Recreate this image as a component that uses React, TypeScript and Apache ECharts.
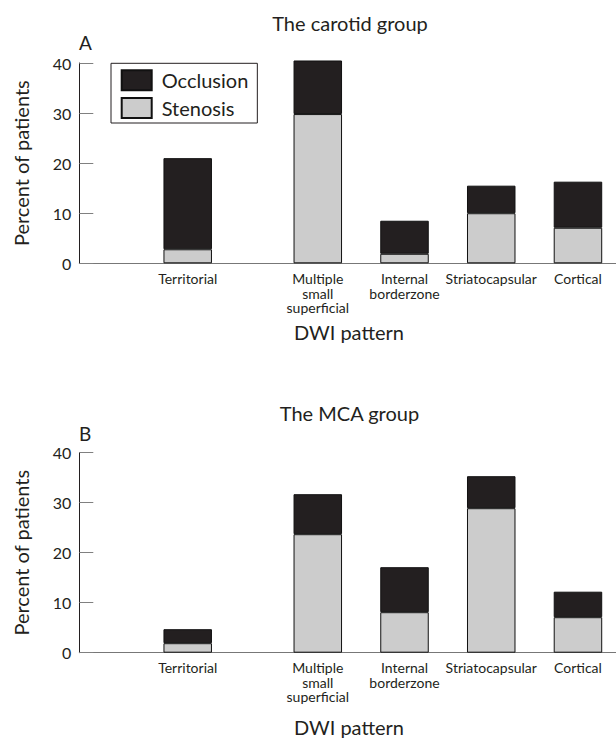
import React, { useEffect, useRef } from "react";
import * as echarts from "echarts";

// ---- data ----
const categories = [
  "Territorial",
  "Multiple\nsmall\nsuperficial",
  "Internal\nborderzone",
  "Striatocapsular",
  "Cortical",
];
const carotidStenosis = [2.8, 29.8, 1.9, 10.0, 7.1];
const carotidOcclusion = [18.2, 10.7, 6.6, 5.5, 9.2];
const mcaStenosis = [1.9, 23.7, 8.1, 28.9, 7.1];
const mcaOcclusion = [2.8, 8.0, 9.0, 6.4, 5.1];
const yTicks = [0, 10, 20, 30, 40];
const seriesNames = ["Occlusion", "Stenosis"];
const xAxisTitle = "DWI pattern";
const yAxisTitle = "Percent of patients";
const panelTitles = ["The carotid group", "The MCA group"];
const panelLetters = ["A", "B"];

// ---- layout (slots on the category axis, gaps are blank slots) ----
const SLOT_COUNT = 13;
const SLOT_OF = [2, 5, 7, 9, 11];
const GRID_LEFT = 79.3;
const GRID_WIDTH = 563.7; // axis runs past the right edge of the page

const FONT = "Lato";
const INK = "#231f20";
const GREY = "#cccccc";

function spread<T>(values: T[]): (T | null)[] {
  const out: (T | null)[] = new Array(SLOT_COUNT).fill(null);
  SLOT_OF.forEach((s, i) => (out[s] = values[i]));
  return out;
}
const axisCats = spread(categories).map((c, i) => (c === null ? "gap" + i : c));

export default function App() {
  const ref = useRef<HTMLDivElement>(null);
  useEffect(() => {
    document.body.style.margin = "0";
    document.body.style.overflow = "hidden";
    document.documentElement.style.overflow = "hidden";
    const chart = echarts.init(ref.current!, null, { renderer: "svg" });
    const grids = [
      { left: GRID_LEFT, top: 63, height: 200.3, width: GRID_WIDTH },
      { left: GRID_LEFT, top: 452.7, height: 200, width: GRID_WIDTH },
    ];
    const xAxes = grids.map((_, gi) => ({
      type: "category",
      gridIndex: gi,
      data: axisCats,
      axisLine: { lineStyle: { color: "#777", width: 1 } },
      axisTick: { show: false },
      axisLabel: {
        interval: 0,
        hideOverlap: false,
        fontFamily: FONT,
        fontSize: 14,
        lineHeight: 14.5,
        margin: 8,
        color: INK,
        formatter: (v: string) => (v.startsWith("gap") ? "" : v),
      },
    }));
    const yAxes = grids.map((_, gi) => ({
      type: "value",
      gridIndex: gi,
      min: yTicks[0],
      max: yTicks[yTicks.length - 1],
      interval: yTicks[1] - yTicks[0],
      name: yAxisTitle,
      nameLocation: "middle",
      nameGap: 48,
      nameTextStyle: { fontFamily: FONT, fontSize: 20, color: INK },
      axisLine: { show: true, lineStyle: { color: INK, width: 1 } },
      axisTick: { show: true, inside: true, length: 14, lineStyle: { color: "#808080", width: 1 } },
      axisLabel: { fontFamily: FONT, fontSize: 16, color: INK, margin: 8 },
      splitLine: { show: false },
    }));
    const groups = [
      [carotidOcclusion, carotidStenosis],
      [mcaOcclusion, mcaStenosis],
    ];
    const series: any[] = [];
    groups.forEach(([occ, sten], gi) => {
      series.push({
        name: seriesNames[1],
        type: "bar",
        xAxisIndex: gi,
        yAxisIndex: gi,
        stack: "s" + gi,
        barWidth: 48.5,
        clip: false,
        data: spread(sten),
        itemStyle: { color: GREY, borderColor: "#111", borderWidth: 1 },
      });
      series.push({
        name: seriesNames[0],
        type: "bar",
        xAxisIndex: gi,
        yAxisIndex: gi,
        stack: "s" + gi,
        barWidth: 48.5,
        clip: false,
        data: spread(occ),
        itemStyle: { color: INK, borderColor: "#111", borderWidth: 1 },
      });
    });
    const text = (t: string, x: number, y: number, size: number, align = "center") => ({
      type: "text",
      x,
      y,
      style: {
        text: t,
        fontFamily: FONT,
        fontSize: size,
        fill: INK,
        textAlign: align,
        textVerticalAlign: "middle",
      },
    });
    chart.setOption({
      animation: false,
      backgroundColor: "#fff",
      grid: grids,
      xAxis: xAxes,
      yAxis: yAxes,
      legend: {
        data: seriesNames,
        orient: "vertical",
        left: 111,
        top: 63.3,
        padding: [6, 9, 4, 9.7],
        itemWidth: 30,
        itemHeight: 20,
        itemGap: 5.7,
        icon: "rect",
        borderColor: INK,
        borderWidth: 1,
        textStyle: { fontFamily: FONT, fontSize: 20, color: INK, padding: [0, 0, 0, 5] },
      },
      series,
      graphic: [
        text(panelTitles[0], 350, 22.5, 20),
        text(panelLetters[0], 79, 42, 19, "left"),
        text(xAxisTitle, 349, 331.5, 20),
        text(panelTitles[1], 349.5, 412.5, 20),
        text(panelLetters[1], 79, 433, 19, "left"),
        text(xAxisTitle, 349, 726.5, 20),
      ],
    });
    return () => chart.dispose();
  }, []);
  return <div ref={ref} style={{ width: GRID_LEFT + GRID_WIDTH, height: 751 }} />;
}
